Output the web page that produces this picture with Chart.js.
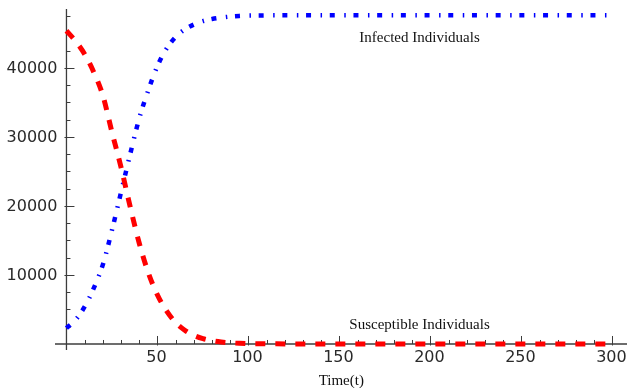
<!DOCTYPE html>
<html>
<head>
<meta charset="utf-8">
<script src="https://cdn.jsdelivr.net/npm/chart.js@4/dist/chart.umd.min.js"></script>
<style>
  html, body { margin: 0; padding: 0; background: #fff; }
  #wrap { width: 627px; height: 388px; }
</style>
</head>
<body>
<div id="wrap"><canvas id="c" width="627" height="388"></canvas></div>
<script>
// SI epidemic model: number of susceptible and infected individuals over time
const timeSteps   = [0, 5, 10, 15, 20, 25, 30, 35, 40, 45, 50, 55, 60, 65, 70, 75, 80, 85, 90, 95, 100, 150, 200, 250, 300];
const susceptible = [45400, 43900, 42000, 39400, 36000, 30700, 25600, 19900, 14600, 10300, 7100, 4800, 3100, 2000, 1250, 780, 480, 290, 170, 100, 60, 0, 0, 0, 0];
const infected    = [2300, 3500, 5400, 8100, 11500, 16500, 22000, 27500, 32700, 36800, 40300, 42800, 44500, 45600, 46300, 46800, 47100, 47300, 47450, 47550, 47600, 47650, 47650, 47650, 47650];

const xTickLabels = [50, 100, 150, 200, 250, 300];
const yTickLabels = [10000, 20000, 30000, 40000];

const seriesLabels = [
  { text: 'Infected Individuals',    t: 194, v: 43700 },
  { text: 'Susceptible Individuals', t: 194, v: 2170 }
];
const axisTitle = 'Time(t)';

const toPoints = ys => timeSteps.map((t, i) => ({ x: t, y: ys[i] }));

// Axes drawn through the origin, with ticks pointing into the plot
const crossAxes = {
  id: 'crossAxes',
  beforeDatasetsDraw(chart) {
    const { ctx, scales: { x, y } } = chart;
    const x0 = x.getPixelForValue(0);
    const y0 = y.getPixelForValue(0);
    ctx.save();
    ctx.strokeStyle = '#3c3c3c';
    ctx.lineWidth = 1.3;
    const seg = (a, b, c, d) => { ctx.beginPath(); ctx.moveTo(a, b); ctx.lineTo(c, d); ctx.stroke(); };
    seg(x.left, y0, x.right, y0);
    seg(x0, y.top, x0, y.bottom);

    ctx.lineWidth = 1;
    for (let t = 10; t <= 300; t += 10) {
      const px = Math.round(x.getPixelForValue(t)) + 0.5;
      if (t % 50 === 0) seg(px, y0 + 1.5, px, y0 - 8);
      else seg(px, y0, px, y0 - 4);
    }
    for (let v = 2500; v <= 47500; v += 2500) {
      const py = Math.round(y.getPixelForValue(v)) + 0.5;
      if (v % 10000 === 0) seg(x0 - 2, py, x0 + 8, py);
      else seg(x0, py, x0 + 4, py);
    }

    ctx.fillStyle = '#2a2a2a';
    ctx.font = '16px "DejaVu Sans"';
    ctx.textAlign = 'center';
    ctx.textBaseline = 'middle';
    xTickLabels.forEach(t => ctx.fillText(String(t), x.getPixelForValue(t) - 1, y0 + 14));
    ctx.textAlign = 'right';
    yTickLabels.forEach(v => ctx.fillText(String(v), x0 - 9, y.getPixelForValue(v) + 0.5));
    ctx.restore();
  },
  afterDatasetsDraw(chart) {
    const { ctx, scales: { x, y } } = chart;
    ctx.save();
    ctx.fillStyle = '#111';
    ctx.font = '15px "Liberation Serif"';
    ctx.textAlign = 'center';
    ctx.textBaseline = 'alphabetic';
    seriesLabels.forEach(l => ctx.fillText(l.text, x.getPixelForValue(l.t), y.getPixelForValue(l.v)));
    ctx.fillText(axisTitle, x.getPixelForValue(151), y.getPixelForValue(0) + 41);
    ctx.restore();
  }
};

new Chart(document.getElementById('c'), {
  type: 'line',
  data: {
    datasets: [
      {
        label: 'Susceptible Individuals',
        data: toPoints(susceptible),
        borderColor: '#ff0000',
        borderWidth: 5,
        borderDash: [10, 10],
        borderCapStyle: 'butt',
        pointRadius: 0,
        cubicInterpolationMode: 'monotone',
        fill: false
      },
      {
        label: 'Infected Individuals',
        data: toPoints(infected),
        borderColor: '#0000ff',
        borderWidth: 4.5,
        borderDash: [5, 9.5, 1.5, 7.7],
        borderCapStyle: 'butt',
        pointRadius: 0,
        cubicInterpolationMode: 'monotone',
        fill: false
      }
    ]
  },
  options: {
    responsive: false,
    animation: false,
    layout: { padding: { left: 55, right: 0, top: 9, bottom: 38 } },
    plugins: { legend: { display: false }, tooltip: { enabled: false } },
    scales: {
      x: { type: 'linear', min: -6.3, max: 308, display: false },
      y: { type: 'linear', min: -870, max: 48550, display: false }
    }
  },
  plugins: [crossAxes]
});
</script>
</body>
</html>
